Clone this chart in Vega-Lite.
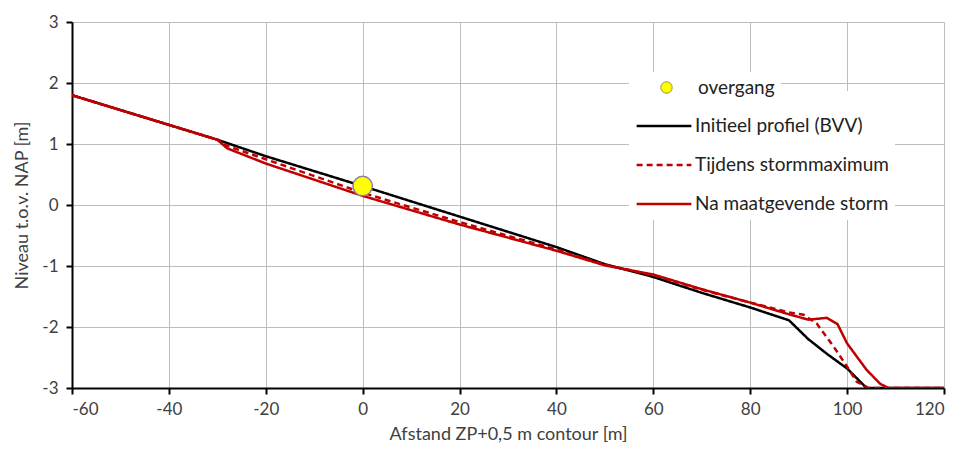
{
  "$schema": "https://vega.github.io/schema/vega-lite/v6.json",
  "width": 872,
  "height": 366,
  "autosize": "none",
  "padding": {"left": 72, "top": 22, "right": 18, "bottom": 66},
  "background": "white",
  "config": {
    "view": {"stroke": null},
    "font": "Lato",
    "axis": {
      "domainColor": "#000000",
      "domainWidth": 2,
      "tickColor": "#000000",
      "tickWidth": 2,
      "tickSize": 6,
      "gridColor": "#bdbdbd",
      "gridWidth": 1,
      "labelFont": "Lato",
      "labelFontSize": 17,
      "labelColor": "#404040",
      "titleFont": "Lato",
      "titleFontSize": 18,
      "titleFontWeight": "normal",
      "titleColor": "#404040"
    },
    "legend": {
      "labelFont": "Lato",
      "labelFontSize": 19,
      "labelColor": "#222222",
      "labelLimit": 400
    }
  },
  "datasets": {
    "profiles": [
      {"series": "Initieel profiel (BVV)", "x": -60, "y": 1.8},
      {"series": "Initieel profiel (BVV)", "x": -30, "y": 1.07},
      {"series": "Initieel profiel (BVV)", "x": -20, "y": 0.8},
      {"series": "Initieel profiel (BVV)", "x": 0, "y": 0.31},
      {"series": "Initieel profiel (BVV)", "x": 20, "y": -0.19},
      {"series": "Initieel profiel (BVV)", "x": 40, "y": -0.69},
      {"series": "Initieel profiel (BVV)", "x": 50, "y": -0.97},
      {"series": "Initieel profiel (BVV)", "x": 60, "y": -1.18},
      {"series": "Initieel profiel (BVV)", "x": 70, "y": -1.44},
      {"series": "Initieel profiel (BVV)", "x": 80, "y": -1.68},
      {"series": "Initieel profiel (BVV)", "x": 88, "y": -1.89},
      {"series": "Initieel profiel (BVV)", "x": 92, "y": -2.2},
      {"series": "Initieel profiel (BVV)", "x": 96, "y": -2.45},
      {"series": "Initieel profiel (BVV)", "x": 100, "y": -2.68},
      {"series": "Initieel profiel (BVV)", "x": 104, "y": -3.0},
      {"series": "Initieel profiel (BVV)", "x": 120, "y": -3.0},
      {"series": "Tijdens stormmaximum", "x": -60, "y": 1.8},
      {"series": "Tijdens stormmaximum", "x": -30, "y": 1.07},
      {"series": "Tijdens stormmaximum", "x": -28, "y": 0.97},
      {"series": "Tijdens stormmaximum", "x": -20, "y": 0.75},
      {"series": "Tijdens stormmaximum", "x": 0, "y": 0.2},
      {"series": "Tijdens stormmaximum", "x": 20, "y": -0.28},
      {"series": "Tijdens stormmaximum", "x": 40, "y": -0.73},
      {"series": "Tijdens stormmaximum", "x": 50, "y": -0.98},
      {"series": "Tijdens stormmaximum", "x": 60, "y": -1.15},
      {"series": "Tijdens stormmaximum", "x": 70, "y": -1.39},
      {"series": "Tijdens stormmaximum", "x": 80, "y": -1.6},
      {"series": "Tijdens stormmaximum", "x": 88, "y": -1.76},
      {"series": "Tijdens stormmaximum", "x": 91, "y": -1.8},
      {"series": "Tijdens stormmaximum", "x": 93.7, "y": -1.94},
      {"series": "Tijdens stormmaximum", "x": 97.2, "y": -2.32},
      {"series": "Tijdens stormmaximum", "x": 100, "y": -2.65},
      {"series": "Tijdens stormmaximum", "x": 102, "y": -2.9},
      {"series": "Tijdens stormmaximum", "x": 104.5, "y": -3.0},
      {"series": "Tijdens stormmaximum", "x": 120, "y": -3.0},
      {"series": "Na maatgevende storm", "x": -60, "y": 1.8},
      {"series": "Na maatgevende storm", "x": -30, "y": 1.07},
      {"series": "Na maatgevende storm", "x": -28, "y": 0.93},
      {"series": "Na maatgevende storm", "x": -20, "y": 0.68},
      {"series": "Na maatgevende storm", "x": 0, "y": 0.15},
      {"series": "Na maatgevende storm", "x": 20, "y": -0.32},
      {"series": "Na maatgevende storm", "x": 40, "y": -0.75},
      {"series": "Na maatgevende storm", "x": 50, "y": -0.99},
      {"series": "Na maatgevende storm", "x": 60, "y": -1.14},
      {"series": "Na maatgevende storm", "x": 70, "y": -1.38},
      {"series": "Na maatgevende storm", "x": 80, "y": -1.6},
      {"series": "Na maatgevende storm", "x": 87.5, "y": -1.78},
      {"series": "Na maatgevende storm", "x": 92, "y": -1.88},
      {"series": "Na maatgevende storm", "x": 95.8, "y": -1.85},
      {"series": "Na maatgevende storm", "x": 98, "y": -1.95},
      {"series": "Na maatgevende storm", "x": 100, "y": -2.27},
      {"series": "Na maatgevende storm", "x": 104, "y": -2.7},
      {"series": "Na maatgevende storm", "x": 106.8, "y": -2.93},
      {"series": "Na maatgevende storm", "x": 108.5, "y": -3.0},
      {"series": "Na maatgevende storm", "x": 120, "y": -3.0}
    ],
    "points": [
      {"series": "overgang", "x": 0, "y": 0.31}
    ]
  },
  "layer": [
    {
      "data": {"name": "profiles"},
      "mark": {"type": "line", "strokeWidth": 2.5, "clip": true},
      "encoding": {
        "x": {
          "field": "x", "type": "quantitative",
          "scale": {"domain": [-60, 120], "nice": false},
          "axis": {"values": [-60, -40, -20, 0, 20, 40, 60, 80, 100, 120], "labelExpr": "toString(datum.value)", "labelPadding": 7, "titlePadding": 8, "title": "Afstand ZP+0,5 m contour [m]"}
        },
        "y": {
          "field": "y", "type": "quantitative",
          "scale": {"domain": [-3, 3], "nice": false},
          "axis": {"values": [-3, -2, -1, 0, 1, 2, 3], "labelExpr": "toString(datum.value)", "labelPadding": 8, "titlePadding": 10, "title": "Niveau t.o.v. NAP [m]"}
        },
        "color": {
          "field": "series", "type": "nominal",
          "scale": {"domain": ["Initieel profiel (BVV)", "Tijdens stormmaximum", "Na maatgevende storm"], "range": ["#000000", "#c00000", "#c00000"]},
          "legend": {"title": null, "orient": "none", "legendX": 557, "legendY": 69, "padding": 6, "fillColor": "white", "symbolSize": 3000, "symbolStrokeWidth": 2.5, "rowPadding": -13, "labelOffset": 2}
        },
        "strokeDash": {
          "field": "series", "type": "nominal",
          "scale": {"domain": ["Initieel profiel (BVV)", "Tijdens stormmaximum", "Na maatgevende storm"], "range": [[1, 0], [6, 4], [1, 0]]},
          "legend": {"title": null, "orient": "none", "legendX": 557, "legendY": 69, "padding": 6, "fillColor": "white", "symbolSize": 3000, "symbolStrokeWidth": 2.5, "rowPadding": -13, "labelOffset": 2}
        }
      }
    },
    {
      "data": {"name": "points"},
      "mark": {"type": "point", "filled": true, "size": 380, "stroke": "#8f7fb0", "strokeWidth": 1.5, "opacity": 1},
      "encoding": {
        "x": {"field": "x", "type": "quantitative"},
        "y": {"field": "y", "type": "quantitative"},
        "fill": {
          "field": "series", "type": "nominal",
          "scale": {"domain": ["overgang"], "range": ["#ffff00"]},
          "legend": {"title": null, "orient": "none", "legendX": 557, "legendY": 50, "padding": 6, "fillColor": "white", "symbolSize": 130, "symbolStrokeColor": "#a08c3c", "symbolStrokeWidth": 1, "symbolOffset": 22, "labelOffset": 22, "labelExpr": "datum.label + '\u00a0\u00a0\u00a0\u00a0\u00a0\u00a0\u00a0\u00a0\u00a0\u00a0\u00a0\u00a0\u00a0\u00a0\u00a0\u00a0\u00a0\u00a0\u00a0\u00a0\u00a0\u00a0\u00a0\u00a0\u00a0\u00a0\u00a0\u00a0\u00a0\u00a0\u00a0\u00a0\u00a0\u00a0\u00a0\u00a0'"}
        }
      }
    }
  ]
}
